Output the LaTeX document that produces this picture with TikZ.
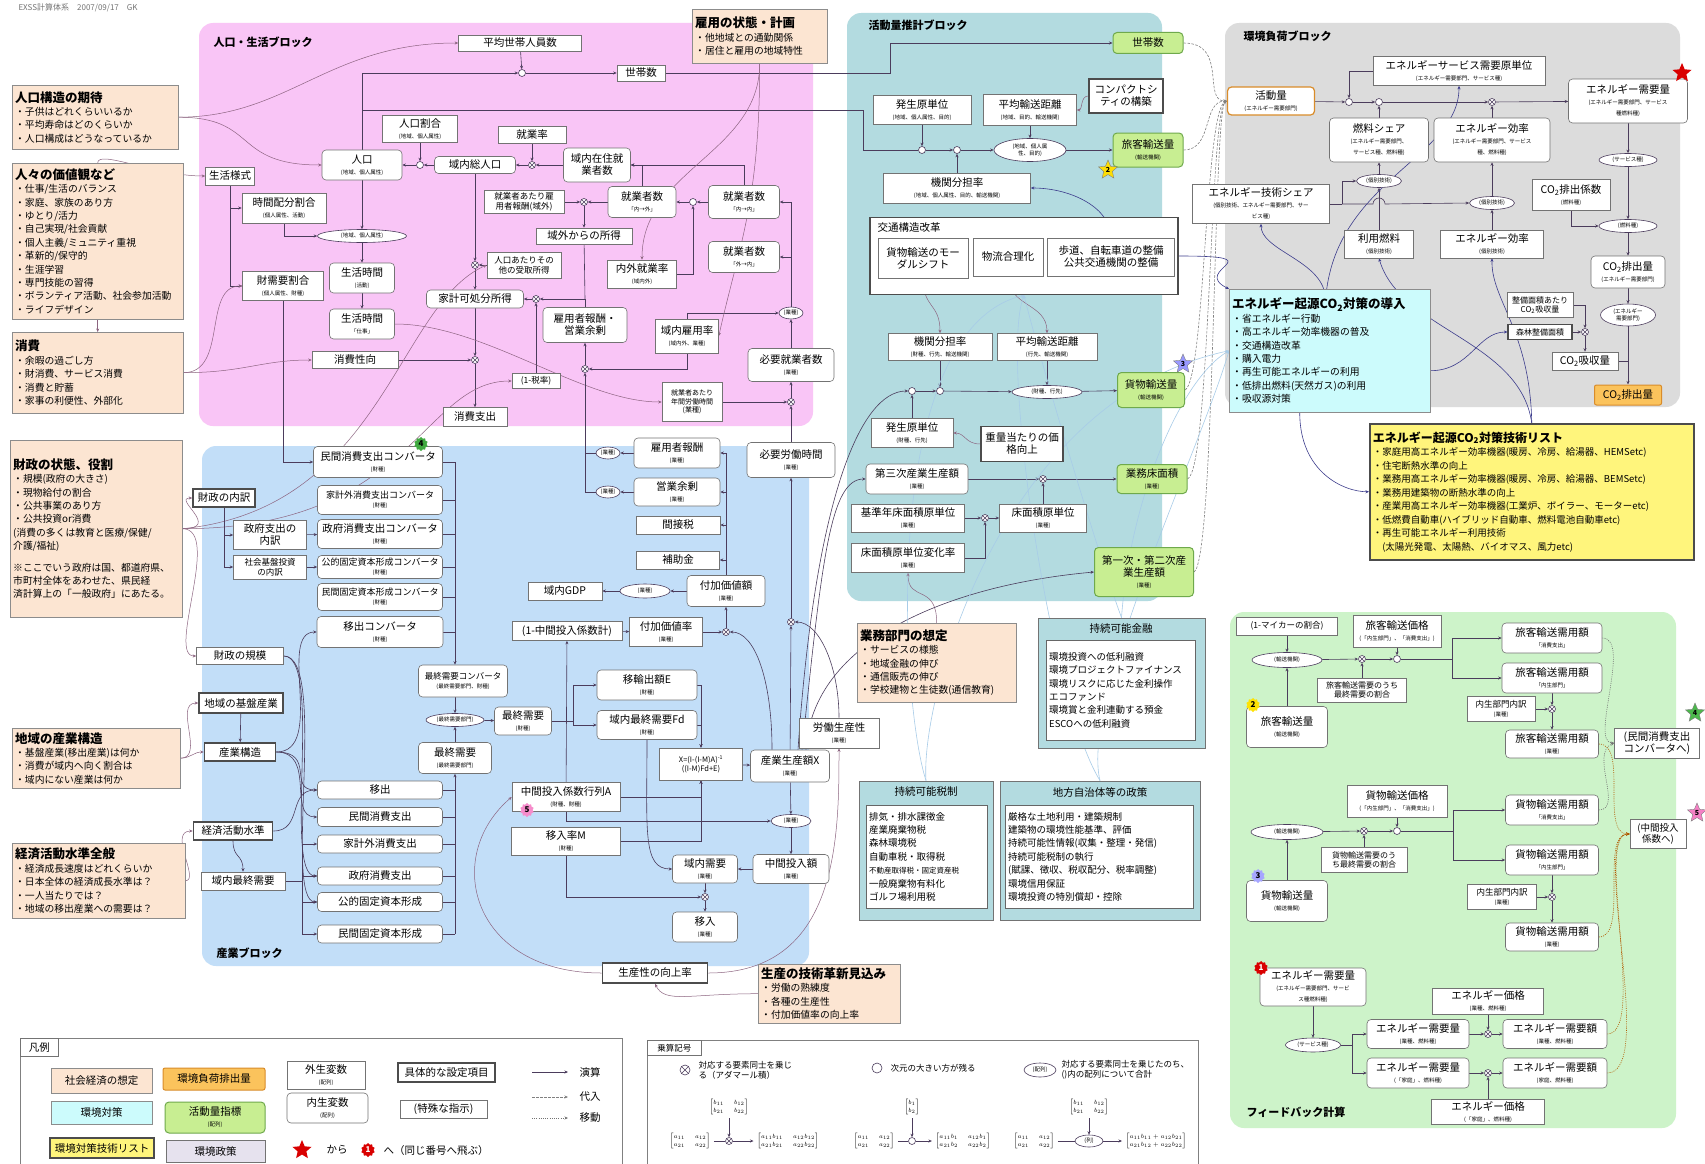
\documentclass[tikz,border=0pt]{standalone}
\usepackage{amsmath}
\usepackage{fontspec}
\setmainfont{Noto Sans CJK JP}
\usepackage{tikz}
\usetikzlibrary{positioning,arrows.meta,calc,shapes.geometric}
\newcommand{\fb}{\fontsize{10.5}{12}\selectfont}
\newcommand{\fm}{\fontsize{8.5}{10}\selectfont}
\newcommand{\fc}{\fontsize{9}{10}\selectfont}
\newcommand{\fs}{\fontsize{5.5}{6.5}\selectfont}
\newcommand{\fx}{\fontsize{6.5}{7.5}\selectfont}
\newcommand{\fa}{\fontsize{9.8}{13.4}\selectfont}
\newcommand{\sm}[1]{\\[-1pt]{\fs #1}}
\newcommand{\ttl}[1]{{\fontsize{12.5}{15}\selectfont\bfseries #1}}
\newcommand{\cotwo}{CO\textsubscript{2}}
\newcommand{\mx}[1]{$\left[\begin{matrix}#1\end{matrix}\right]$}
\definecolor{pinkb}{HTML}{F9C5F6}
\definecolor{blueb}{HTML}{C2DEF8}
\definecolor{tealb}{HTML}{B3DBE0}
\definecolor{grayb}{HTML}{DCDCDC}
\definecolor{greenb}{HTML}{CDF3C9}
\definecolor{asmf}{HTML}{FCE5D2}
\definecolor{measf}{HTML}{CCFBFC}
\definecolor{techf}{HTML}{FFF57C}
\definecolor{actf}{HTML}{C8EE92}
\definecolor{actd}{HTML}{6FA94C}
\definecolor{emif}{HTML}{FBC35C}
\definecolor{emid}{HTML}{D98C2A}
\definecolor{lnkc}{HTML}{4B3C5C}
\definecolor{crvc}{HTML}{8C6480}
\definecolor{navyc}{HTML}{3C3C8C}
\definecolor{plcc}{HTML}{A8CCE8}
\definecolor{polf}{HTML}{B3DBE0}
\definecolor{lavf}{HTML}{E6E2EE}
\pgfdeclarelayer{back}
\pgfdeclarelayer{lines}
\pgfsetlayers{back,lines,main}
\tikzset{
  >={Stealth[length=3.5pt,width=3pt]},
  sz/.style n args={2}{minimum width=#1pt,minimum height=#2pt},
  ex/.style={draw=black!55,fill=white,line width=0.6pt,align=center,inner sep=1pt,font=\fb},
  en/.style={ex,rounded corners=4pt},
  spec/.style={ex,line width=1.6pt,draw=black!70},
  act/.style={en,fill=actf,draw=actd,line width=1pt},
  em/.style={ex,fill=emif,draw=emid,line width=1pt,rounded corners=2pt},
  asm/.style={draw=black!45,fill=asmf,anchor=north west,align=left,inner sep=3pt,font=\fa},
  meas/.style={draw=black!45,fill=measf,anchor=north west,align=left,inner sep=3pt,font=\fa},
  techb/.style={draw=black!70,line width=1.5pt,fill=techf,anchor=north west,align=left,inner sep=3pt,font=\fontsize{9.5}{13.5}\selectfont},
  pol/.style={draw=black!55,fill=polf,line width=0.8pt},
  polin/.style={draw=black!60,fill=white,anchor=north west,align=left,inner sep=3pt,font=\fontsize{9.5}{13.4}\selectfont},
  op/.style={circle,draw=lnkc,fill=white,minimum size=7pt,inner sep=0pt,line width=0.6pt},
  opx/.style={op,path picture={\draw[lnkc,line width=0.4pt]
    (path picture bounding box.south west) -- (path picture bounding box.north east)
    (path picture bounding box.north west) -- (path picture bounding box.south east);}},
  el/.style={ellipse,draw=lnkc,fill=white,inner sep=0.5pt,align=center,font=\fs,line width=0.6pt},
  blkt/.style={anchor=west,font=\bfseries\fontsize{11}{13}\selectfont},
  lnk/.style={draw=lnkc,line width=0.6pt},
  crv/.style={draw=crvc,line width=0.5pt},
  nav/.style={draw=navyc,line width=0.6pt},
  plc/.style={draw=plcc,line width=0.6pt},
  sub/.style={draw=black!50,line width=0.6pt,dash pattern=on 2.5pt off 1.5pt},
  mov/.style={draw=black!55,line width=0.6pt,dash pattern=on 1pt off 1.2pt},
  stp/.style={star,star points=5,star point ratio=2.2,inner sep=0pt,minimum size=20pt,draw=black!50,line width=0.4pt,font=\bfseries\fontsize{7}{7}\selectfont},
  bdg/.style={star,star points=10,star point ratio=1.25,inner sep=0pt,minimum size=14pt,font=\bfseries\fontsize{8}{8}\selectfont},
}
\begin{document}
\begin{tikzpicture}[x=1pt,y=-1pt]
\useasboundingbox (0,0) rectangle (1705,1164);

\begin{pgfonlayer}{back}
\fill[white] (0,0) rectangle (1705,1164);
\fill[pinkb,rounded corners=14pt] (199,23) rectangle (813,426);
\fill[blueb,rounded corners=14pt] (202,446) rectangle (809,966);
\fill[tealb,rounded corners=14pt] (847,13) rectangle (1162,601);
\fill[grayb,rounded corners=14pt] (1225,23) rectangle (1680,407);
\fill[greenb,rounded corners=14pt] (1230,612) rectangle (1676,1128);
\end{pgfonlayer}

\node[anchor=west,text=black!55,font=\fontsize{8}{9}\selectfont] (hdr) at (15,8) {EXSS計算体系\quad 2007/09/17\quad GK};
\node[blkt] (tPop) at (210,42) {人口・生活ブロック};
\node[blkt] (tAct) at (865,25) {活動量推計ブロック};
\node[blkt] (tEnv) at (1240,36) {環境負荷ブロック};
\node[blkt] (tInd) at (213,953) {産業ブロック};
\node[blkt] (tFb) at (1243,1112) {フィードバック計算};

% assumptions
\node[asm,text width=160pt,minimum height=64pt] (asmPop) at (12,85) {\ttl{人口構造の期待}\\・子供はどれくらいいるか\\・平均寿命はどのくらいか\\・人口構成はどうなっているか};
\node[asm,text width=165pt,minimum height=156pt] (asmVal) at (12,163) {\ttl{人々の価値観など}\\・仕事/生活のバランス\\・家庭、家族のあり方\\・ゆとり/活力\\・自己実現/社会貢献\\・個人主義/ミュニティ重視\\・革新的/保守的\\・生涯学習\\・専門技能の習得\\・ボランティア活動、社会参加活動\\・ライフデザイン};
\node[asm,text width=165pt,minimum height=81pt] (asmCon) at (12,332) {\ttl{消費}\\・余暇の過ごし方\\・財消費、サービス消費\\・消費と貯蓄\\・家事の利便性、外部化};
\node[asm,text width=129pt,minimum height=54pt] (asmEmp) at (692,9) {\ttl{雇用の状態・計画}\\・他地域との通勤関係\\・居住と雇用の地域特性};
\node[asm,text width=166pt,minimum height=177pt] (asmFis) at (10,440) {\ttl{財政の状態、役割}\\・規模(政府の大きさ)\\・現物給付の割合\\・公共事業のあり方\\・公共投資or消費\\(消費の多くは教育と医療/保健/\\介護/福祉)\\[8pt]※ここでいう政府は国、都道府県、\\市町村全体をあわせた、県民経\\済計算上の「一般政府」にあたる。};
\node[asm,text width=162pt,minimum height=60pt] (asmInd) at (12,728) {\ttl{地域の産業構造}\\・基盤産業(移出産業)は何か\\・消費が域内へ向く割合は\\・域内にない産業は何か};
\node[asm,text width=167pt,minimum height=75pt] (asmEco) at (12,843) {\ttl{経済活動水準全般}\\・経済成長速度はどれくらいか\\・日本全体の経済成長水準は？\\・一人当たりでは？\\・地域の移出産業への需要は？};
\node[asm,text width=153pt,minimum height=79pt] (asmBiz) at (857,623) {\ttl{業務部門の想定}\\・サービスの様態\\・地域金融の伸び\\・通信販売の伸び\\・学校建物と生徒数(通信教育)};
\node[asm,text width=136pt,minimum height=59pt] (asmTec) at (758,964) {\ttl{生産の技術革新見込み}\\・労働の熟練度\\・各種の生産性\\・付加価値率の向上率};

% population / life block
\node[ex,sz={123}{16}] (avgHH) at (520,43) {平均世帯人員数};
\node[ex,sz={48}{16}] (hh) at (641,73) {世帯数};
\node[op] (oHH) at (522,73) {};
\node[ex,sz={75}{27}] (popR) at (420,129) {人口割合\sm{(地域、個人属性)}};
\node[en,sz={80}{30}] (pop) at (362,165) {人口\sm{(地域、個人属性)}};
\node[op] (oPop) at (420,165) {};
\node[ex,sz={68}{17}] (workR) at (532,135) {就業率};
\node[en,sz={81}{17}] (totPop) at (475,165) {域内総人口};
\node[opx] (xTot) at (532,165) {};
\node[en,sz={67}{34}] (resW) at (597,165) {域内在住就\\業者数};
\node[ex,sz={80}{23},font=\fm] (wageOut) at (524,202) {就業者あたり雇\\用者報酬(域外)};
\node[opx] (xWage) at (584,202) {};
\node[en,sz={68}{31}] (wIO) at (642,202) {就業者数\sm{「内→外」}};
\node[op] (oW) at (693,202) {};
\node[en,sz={71}{33}] (wII) at (744,202) {就業者数\sm{「内→内」}};
\node[ex,sz={96}{16}] (incOut) at (584,236) {域外からの所得};
\node[ex,sz={74}{26},font=\fm] (othInc) at (524,265) {人口あたりその\\他の受取所得};
\node[opx] (xOth) at (475,265) {};
\node[ex,sz={69}{28}] (ioRate) at (642,274) {内外就業率\sm{(域内外)}};
\node[en,sz={71}{31}] (wOI) at (744,257) {就業者数\sm{「外→内」}};
\node[en,sz={97}{18}] (disp) at (475,299) {家計可処分所得};
\node[opx] (xDisp) at (536,299) {};
\node[en,sz={84}{35}] (comp) at (585,325) {雇用者報酬・\\営業余剰};
\node[ex,sz={63}{34}] (empR) at (687,336) {域内雇用率\sm{(域内外、業種)}};
\node[el,sz={24}{12}] (eInd) at (791,313) {(業種)};
\node[en,sz={86}{33}] (needW) at (791,365) {必要就業者数\sm{(業種)}};
\node[opx] (xComp) at (585,369) {};
\node[opx] (xCons) at (475,360) {};
\node[ex,sz={48}{15},font=\fm] (tax) at (536,381) {(1-税率)};
\node[ex,sz={60}{39},font=\fontsize{7}{8.5}\selectfont] (hrs) at (692,402) {就業者あたり\\年間労働時間\\(業種)};
\node[opx] (xHrs) at (791,402) {};
\node[ex,sz={64}{19}] (cons) at (475,417) {消費支出};
\node[ex,sz={49}{18}] (life) at (230,176) {生活様式};
\node[ex,sz={84}{30}] (tAlloc) at (284,208) {時間配分割合\sm{(個人属性、活動)}};
\node[el,sz={89}{13}] (eAlloc) at (362,236) {(地域、個人属性)};
\node[ex,sz={81}{29}] (gAlloc) at (283,286) {財需要割合\sm{(個人属性、財種)}};
\node[en,sz={65}{30}] (lifeT) at (362,278) {生活時間\sm{(活動)}};
\node[en,sz={65}{30}] (lifeW) at (362,324) {生活時間\sm{「仕事」}};
\node[ex,sz={86}{17}] (cProp) at (355,360) {消費性向};

% industry block
\node[en,sz={129}{31}] (cvPriv) at (378,462) {民間消費支出コンバータ\sm{(財種)}};
\node[en,sz={125}{29},font=\fc] (cvHH) at (380,500) {家計外消費支出コンバータ\sm{(財種)}};
\node[en,sz={125}{29}] (cvGov) at (380,534) {政府消費支出コンバータ\sm{(財種)}};
\node[en,sz={125}{23},font=\fc] (cvPub) at (380,567) {公的固定資本形成コンバータ\sm{(財種)}};
\node[en,sz={125}{27},font=\fc] (cvPI) at (380,597) {民間固定資本形成コンバータ\sm{(財種)}};
\node[en,sz={126}{31}] (cvEx) at (380,632) {移出コンバータ\sm{(財種)}};
\node[spec,sz={62}{18}] (fisB) at (224,498) {財政の内訳};
\node[ex,sz={73}{29}] (govB) at (270,535) {政府支出の\\内訳};
\node[ex,sz={73}{24},font=\fm] (infB) at (270,567) {社会基盤投資\\の内訳};
\node[ex,sz={87}{17}] (fisS) at (240,656) {財政の規模};
\node[spec,sz={84}{20}] (baseI) at (241,703) {地域の基盤産業};
\node[spec,sz={71}{18}] (indS) at (240,752) {産業構造};
\node[spec,sz={79}{18}] (ecoL) at (233,831) {経済活動水準};
\node[ex,sz={84}{18}] (regFD) at (243,881) {域内最終需要};
\node[en,sz={125}{18}] (dEx) at (380,790) {移出};
\node[en,sz={125}{19}] (dPriv) at (380,817) {民間消費支出};
\node[en,sz={125}{18}] (dHH) at (380,844) {家計外消費支出};
\node[en,sz={125}{18}] (dGov) at (380,876) {政府消費支出};
\node[en,sz={125}{19}] (dPub) at (380,902) {公的固定資本形成};
\node[en,sz={125}{18}] (dPI) at (380,934) {民間固定資本形成};
\node[en,sz={89}{32},font=\fm] (cvFD) at (463,681) {最終需要コンバータ\sm{(最終需要部門、財種)}};
\node[el,sz={58}{13}] (eFD) at (455,720) {(最終需要部門)};
\node[en,sz={57}{28}] (fdG) at (523,721) {最終需要\sm{(財種)}};
\node[en,sz={73}{31}] (fdS) at (455,758) {最終需要\sm{(最終需要部門)}};
\node[en,sz={100}{30}] (expE) at (647,685) {移輸出額E\sm{(財種)}};
\node[en,sz={100}{29}] (fdD) at (647,725) {域内最終需要Fd\sm{(財種)}};
\node[ex,sz={83}{32},font=\fontsize{7.5}{9}\selectfont] (xForm) at (701,764) {X=(I-(I-M)A)\textsuperscript{-1}\\((I-M)Fd+E)};
\node[en,sz={79}{32}] (prodX) at (790,766) {産業生産額X\sm{(業種)}};
\node[ex,sz={80}{30}] (labP) at (839,733) {労働生産性\sm{(業種)}};
\node[en,sz={86}{30}] (wage) at (677,453) {雇用者報酬\sm{(業種)}};
\node[en,sz={86}{28}] (surp) at (677,492) {営業余剰\sm{(業種)}};
\node[ex,sz={84}{18}] (itax) at (678,525) {間接税};
\node[ex,sz={83}{18}] (subs) at (678,560) {補助金};
\node[en,sz={78}{31}] (va) at (726,591) {付加価値額\sm{(業種)}};
\node[el,sz={50}{14}] (eVA) at (645,591) {(業種)};
\node[ex,sz={74}{18}] (gdp) at (565,591) {域内GDP};
\node[el,sz={24}{12}] (eW1) at (608,453) {(業種)};
\node[el,sz={24}{12}] (eW2) at (608,492) {(業種)};
\node[en,sz={88}{35}] (needH) at (791,460) {必要労働時間\sm{(業種)}};
\node[ex,sz={110}{19}] (ic1) at (567,631) {(1-中間投入係数計)};
\node[ex,sz={73}{29}] (vaR) at (666,632) {付加価値率\sm{(業種)}};
\node[opx] (xVA) at (726,632) {};
\node[opx] (xLab) at (791,622) {};
\node[ex,sz={108}{29}] (matA) at (566,797) {中間投入係数行列A\sm{(財種、財種)}};
\node[ex,sz={109}{28}] (impM) at (566,841) {移入率M\sm{(財種)}};
\node[el,sz={40}{13}] (eIC) at (791,821) {(業種)};
\node[en,sz={65}{28}] (regD) at (705,869) {域内需要\sm{(業種)}};
\node[en,sz={76}{29}] (icA) at (791,869) {中間投入額\sm{(業種)}};
\node[opx] (xImp) at (705,897) {};
\node[en,sz={65}{30}] (imp) at (705,927) {移入\sm{(業種)}};
\node[spec,sz={105}{20}] (prodG) at (655,973) {生産性の向上率};

% activity block
\node[act,sz={70}{21}] (hhA) at (1148,43) {世帯数};
\node[ex,sz={98}{29}] (genP) at (922,110) {発生原単位\sm{(地域、個人属性、目的)}};
\node[ex,sz={93}{31}] (dstP) at (1030,110) {平均輸送距離\sm{(地域、目的、輸送機関)}};
\node[spec,sz={74}{34}] (cmpt) at (1126,96) {コンパクトシ\\ティの構築};
\node[op] (oP1) at (922,150) {};
\node[op] (oP2) at (957,150) {};
\node[el,sz={72}{23}] (eP) at (1030,150) {(地域、個人属\\性、目的)};
\node[act,sz={70}{34}] (pasA) at (1148,150) {旅客輸送量\sm{(輸送機関)}};
\node[ex,sz={147}{30}] (modP) at (957,188) {機関分担率\sm{(地域、個人属性、目的、輸送機関)}};
\node[spec,sz={308}{77}] (tr) at (1024,256) {};
\node[anchor=west,font=\fb] (trT) at (874,228) {交通構造改革};
\node[ex,sz={90}{40}] (tr1) at (923,258) {貨物輸送のモー\\ダルシフト};
\node[ex,sz={70}{38}] (tr2) at (1008,257) {物流合理化};
\node[ex,sz={127}{38}] (tr3) at (1111,257) {歩道、自転車道の整備\\公共交通機関の整備};
\node[ex,sz={104}{27}] (modF) at (940,347) {機関分担率\sm{(財種、行先、輸送機関)}};
\node[ex,sz={100}{27}] (dstF) at (1047,347) {平均輸送距離\sm{(行先、輸送機関)}};
\node[op] (oF1) at (912,391) {};
\node[op] (oF2) at (940,391) {};
\node[el,sz={70}{13}] (eF) at (1047,392) {(財種、行先)};
\node[act,sz={67}{35}] (frA) at (1151,390) {貨物輸送量\sm{(輸送機関)}};
\node[ex,sz={82}{29}] (genF) at (912,433) {発生原単位\sm{(財種、行先)}};
\node[spec,sz={82}{35}] (wtP) at (1022,444) {重量当たりの価\\格向上};
\node[en,sz={102}{30}] (terP) at (917,479) {第三次産業生産額\sm{(業種)}};
\node[opx] (xFl) at (1043,479) {};
\node[act,sz={70}{29}] (flA) at (1152,479) {業務床面積\sm{(業種)}};
\node[ex,sz={113}{28}] (bFl) at (908,518) {基準年床面積原単位\sm{(業種)}};
\node[opx] (xFb) at (985,518) {};
\node[ex,sz={87}{28}] (flU) at (1043,518) {床面積原単位\sm{(業種)}};
\node[ex,sz={113}{29}] (flC) at (908,558) {床面積原単位変化率\sm{(業種)}};
\node[act,sz={99}{49}] (prA) at (1144,572) {第一次・第二次産\\業生産額\sm{(業種)}};

% environmental load block
\node[en,sz={87}{28},draw=emid,line width=1.2pt] (actQ) at (1271,101) {活動量\sm{(エネルギー需要部門)}};
\node[op] (o1) at (1349,102) {};
\node[op] (o2) at (1379,102) {};
\node[opx] (x3) at (1492,102) {};
\node[ex,sz={172}{29}] (esu) at (1459,71) {エネルギーサービス需要原単位\sm{(エネルギー需要部門、サービス種)}};
\node[en,sz={119}{44}] (edQ) at (1628,101) {エネルギー需要量\sm{(エネルギー需要部門、サービス}\sm{種燃料種)}};
\node[en,sz={99}{44}] (fSh) at (1379,140) {燃料シェア\sm{(エネルギー需要部門、}\sm{サービス種、燃料種)}};
\node[en,sz={116}{44}] (eEf) at (1492,140) {エネルギー効率\sm{(エネルギー需要部門、サービス}\sm{種、燃料種)}};
\node[el,sz={45}{13}] (eT1) at (1379,181) {(個別技術)};
\node[el,sz={45}{13}] (eT2) at (1492,203) {(個別技術)};
\node[ex,sz={137}{39}] (tSh) at (1261,204) {エネルギー技術シェア\sm{(個別技術、エネルギー需要部門、サー}\sm{ビス種)}};
\node[ex,sz={69}{28}] (fuel) at (1379,244) {利用燃料\sm{(個別技術)}};
\node[ex,sz={103}{28}] (eEf2) at (1492,244) {エネルギー効率\sm{(個別技術)}};
\node[el,sz={58}{13}] (eSv) at (1628,160) {(サービス種)};
\node[ex,sz={78}{31}] (co2c) at (1571,195) {\cotwo 排出係数\sm{(燃料種)}};
\node[el,sz={58}{13}] (eFu) at (1628,226) {(燃料種)};
\node[en,sz={74}{32}] (co2E) at (1628,272) {\cotwo 排出量\sm{(エネルギー需要部門)}};
\node[el,sz={55}{22}] (eSec) at (1628,315) {(エネルギー\\需要部門)};
\node[ex,sz={66}{25},font=\fontsize{8}{9}\selectfont] (absU) at (1540,305) {整備面積あたり\\\cotwo 吸収量};
\node[spec,sz={64}{15},font=\fontsize{8}{9}\selectfont,line width=1.2pt] (forA) at (1540,332) {森林整備面積};
\node[opx] (xFor) at (1585,332) {};
\node[ex,sz={66}{18}] (absQ) at (1585,361) {\cotwo 吸収量};
\node[em,sz={67}{20}] (co2O) at (1628,395) {\cotwo 排出量};
\node[meas,text width=195pt,minimum height=123pt] (meas) at (1229,289) {\ttl{エネルギー起源\cotwo 対策の導入}\\・省エネルギー行動\\・高エネルギー効率機器の普及\\・交通構造改革\\・購入電力\\・再生可能エネルギーの利用\\・低排出燃料(天然ガス)の利用\\・吸収源対策};
\node[techb,text width=318pt,minimum height=136pt] (tech) at (1369,423) {{\fontsize{12}{15}\selectfont\bfseries エネルギー起源\cotwo 対策技術リスト}\\・家庭用高エネルギー効率機器(暖房、冷房、給湯器、HEMSetc)\\・住宅断熱水準の向上\\・業務用高エネルギー効率機器(暖房、冷房、給湯器、BEMSetc)\\・業務用建築物の断熱水準の向上\\・産業用高エネルギー効率機器(工業炉、ボイラー、モーターetc)\\・低燃費自動車(ハイブリッド自動車、燃料電池自動車etc)\\・再生可能エネルギー利用技術\\\quad(太陽光発電、太陽熱、バイオマス、風力etc)};

% policies
\node[pol,sz={167}{130}] (fin) at (1121.5,683) {};
\node[font=\fb] (finT) at (1121,629) {持続可能金融};
\node[polin,text width=143pt,minimum height=100pt] (finL) at (1046,640) {環境投資への低利融資\\環境プロジェクトファイナンス\\環境リスクに応じた金利操作\\エコファンド\\環境賞と金利連動する預金\\ESCOへの低利融資};
\node[pol,sz={134}{139}] (taxP) at (926,850.5) {};
\node[font=\fb] (taxT) at (926,792) {持続可能税制};
\node[polin,text width=115pt,minimum height=103pt] (taxL) at (866,805) {排気・排水課徴金\\産業廃棄物税\\森林環境税\\自動車税・取得税\\{\fontsize{7.5}{9}\selectfont 不動産取得税・固定資産税}\\一般廃棄物有料化\\ゴルフ場利用税};
\node[pol,sz={200}{139}] (loc) at (1100,850.5) {};
\node[font=\fb] (locT) at (1100,792) {地方自治体等の政策};
\node[polin,text width=182pt,minimum height=103pt] (locL) at (1005,805) {厳格な土地利用・建築規制\\建築物の環境性能基準、評価\\持続可能性情報(収集・整理・発信)\\持続可能税制の執行\\(賦課、徴収、税収配分、税率調整)\\環境信用保証\\環境投資の特別償却・控除};

% feedback block
\node[ex,sz={101}{18},font=\fm] (myCar) at (1287,626) {(1-マイカーの割合)};
\node[ex,sz={88}{32}] (pPr) at (1397,631) {旅客輸送価格\sm{(「内生部門」、「消費支出」)}};
\node[el,sz={70}{15}] (eFP) at (1287,660) {(輸送機関)};
\node[opx] (xP1) at (1362,659) {};
\node[op] (oP) at (1397,659) {};
\node[en,sz={100}{30}] (pC) at (1552,638) {旅客輸送需用額\sm{「消費支出」}};
\node[en,sz={100}{30}] (pE) at (1552,678) {旅客輸送需用額\sm{「内生部門」}};
\node[ex,sz={89}{24},font=\fontsize{8}{9}\selectfont] (pFr) at (1362,690) {旅客輸送需要のうち\\最終需要の割合};
\node[ex,sz={68}{25},font=\fm] (pBk) at (1501,709) {内生部門内訳\sm{(業種)}};
\node[opx] (xPB) at (1552,709) {};
\node[en,sz={93}{28}] (pI) at (1552,744) {旅客輸送需用額\sm{(業種)}};
\node[en,sz={81}{41}] (pQ) at (1287,727) {旅客輸送量\sm{(輸送機関)}};
\node[ex,sz={85}{30}] (toPC) at (1657,743) {(民間消費支出\\コンバータへ)};
\node[ex,sz={100}{32}] (fPr) at (1397,801) {貨物輸送価格\sm{(「内生部門」、「消費支出」)}};
\node[el,sz={72}{15}] (eFF) at (1287,832) {(輸送機関)};
\node[opx] (xF1) at (1364,831) {};
\node[op] (oF) at (1397,831) {};
\node[en,sz={93}{30}] (fC) at (1552,810) {貨物輸送需用額\sm{「消費支出」}};
\node[en,sz={93}{30}] (fE) at (1552,860) {貨物輸送需用額\sm{「内生部門」}};
\node[ex,sz={86}{25},font=\fontsize{8}{9}\selectfont] (fFr) at (1364,860) {貨物輸送需要のう\\ち最終需要の割合};
\node[ex,sz={69}{25},font=\fm] (fBk) at (1502,897) {内生部門内訳\sm{(業種)}};
\node[opx] (xFB) at (1552,897) {};
\node[en,sz={93}{28}] (fI) at (1552,937) {貨物輸送需用額\sm{(業種)}};
\node[en,sz={81}{41}] (fQ) at (1287,901) {貨物輸送量\sm{(輸送機関)}};
\node[ex,sz={56}{29},font=\fontsize{9.5}{11}\selectfont] (toIC) at (1658,834) {(中間投入\\係数へ)};
\node[en,sz={106}{38}] (fbE) at (1313,987) {エネルギー需要量\sm{(エネルギー需要部門、サービ}\sm{ス種燃料種)}};
\node[el,sz={55}{14}] (eFS) at (1313,1045) {(サービス種)};
\node[ex,sz={111}{26}] (pEI) at (1488,1001) {エネルギー価格\sm{(業種、燃料種)}};
\node[en,sz={102}{29}] (qI) at (1418,1034) {エネルギー需要量\sm{(業種、燃料種)}};
\node[opx] (xEI) at (1488,1034) {};
\node[en,sz={104}{29}] (vI) at (1555,1034) {エネルギー需要額\sm{(業種、燃料種)}};
\node[en,sz={102}{30}] (qH) at (1418,1073) {エネルギー需要量\sm{(「家庭」、燃料種)}};
\node[opx] (xEH) at (1488,1073) {};
\node[en,sz={104}{30}] (vH) at (1555,1073) {エネルギー需要額\sm{(家庭、燃料種)}};
\node[ex,sz={113}{25}] (pEH) at (1488,1112) {エネルギー価格\sm{(「家庭」、燃料種)}};

% stars and badges
\node[stp,fill=red!85!black,draw=none] (sR) at (1682,73) {};
\node[stp,fill=yellow!80!orange] (s2) at (1108,170) {2};
\node[stp,fill=blue!40] (s3) at (1183,364) {3};
\node[stp,fill=green!60!black!70] (s4) at (1695,713) {4};
\node[stp,fill=magenta!50] (s5) at (1697,813) {5};
\node[bdg,fill=green!55!black!75] (b4) at (421,444) {4};
\node[bdg,fill=magenta!45] (b5) at (527,810) {5};
\node[bdg,fill=yellow!85!orange] (b2) at (1253,705) {2};
\node[bdg,fill=blue!35] (b3) at (1258,876) {3};
\node[bdg,fill=red!85!black,text=white] (b1) at (1261,968) {1};

% legend
\draw[black!50,line width=0.6pt] (20,1038) rectangle (622,1168);
\node[ex,anchor=north west,sz={38}{18}] (lgT) at (20,1038) {凡例};
\node[ex,fill=asmf,draw=black!45,sz={101}{25}] (lg1) at (101.5,1080.5) {社会経済の想定};
\node[em,sz={102}{22}] (lg2) at (214,1079) {環境負荷排出量};
\node[ex,fill=measf,draw=black!45,sz={101}{23}] (lg3) at (101.5,1112.5) {環境対策};
\node[act,sz={100}{31}] (lg4) at (215,1117.5) {活動量指標\sm{(配列)}};
\node[ex,fill=techf,draw=black!70,line width=1.4pt,sz={104}{20}] (lg5) at (102,1148) {環境対策技術リスト};
\node[ex,fill=lavf,sz={99}{22}] (lg6) at (215.5,1151) {環境政策};
\node[ex,sz={78}{28}] (lg7) at (326,1075) {外生変数\sm{(配列)}};
\node[en,sz={81}{30}] (lg8) at (327.5,1108) {内生変数\sm{(配列)}};
\node[spec,sz={97}{19}] (lg9) at (446.5,1072.5) {具体的な設定項目};
\node[ex,sz={87}{18}] (lg10) at (443.5,1109) {(特殊な指示)};
\node[stp,fill=red!85!black,draw=none] (lgS) at (302,1150) {};
\node[font=\fb] (lgK) at (337,1150) {から};
\node[bdg,fill=red!85!black,text=white] (lgB) at (368,1150) {1};
\node[anchor=west,font=\fb] (lgH) at (380,1150) {へ（同じ番号へ飛ぶ）};
\coordinate (la1) at (532,1072); \coordinate (la2) at (568,1072);
\coordinate (lb1) at (532,1097); \coordinate (lb2) at (568,1097);
\coordinate (lc1) at (532,1118); \coordinate (lc2) at (568,1118);
\draw[lnk,->] (la1) -- (la2);
\draw[sub,->] (lb1) -- (lb2);
\draw[mov,->] (lc1) -- (lc2);
\node[anchor=west,font=\fb] (lgA) at (576,1072) {演算};
\node[anchor=west,font=\fb] (lgB2) at (576,1097) {代入};
\node[anchor=west,font=\fb] (lgC) at (576,1118) {移動};

% multiplication symbols
\draw[black!50,line width=0.6pt] (647,1040) rectangle (1198,1168);
\node[ex,anchor=north west,sz={54}{15},font=\fm] (mlT) at (647,1040) {乗算記号};
\node[opx,minimum size=10pt] (mS1) at (685,1070) {};
\node[anchor=west,font=\fm,align=left] (mT1) at (695,1070) {対応する要素同士を乗じ\\る（アダマール積）};
\node[op,minimum size=10pt] (mS2) at (877,1068) {};
\node[anchor=west,font=\fm] (mT2) at (887,1068) {次元の大きい方が残る};
\node[el,sz={32}{14}] (mS3) at (1040,1070) {(配列)};
\node[anchor=west,font=\fm,align=left] (mT3) at (1058,1070) {対応する要素同士を乗じたのち、\\()内の配列について合計};
\node[font=\fx] (m1a) at (690,1141) {\mx{a_{11}&a_{12}\\a_{21}&a_{22}}};
\node[font=\fx] (m1b) at (729,1107) {\mx{b_{11}&b_{12}\\b_{21}&b_{22}}};
\node[opx] (m1x) at (729,1141) {};
\node[font=\fx] (m1c) at (788,1141) {\mx{a_{11}b_{11}&a_{12}b_{12}\\a_{21}b_{21}&a_{22}b_{22}}};
\node[font=\fx] (m2a) at (874,1141) {\mx{a_{11}&a_{12}\\a_{21}&a_{22}}};
\node[font=\fx] (m2b) at (912,1107) {\mx{b_{1}\\b_{2}}};
\node[op] (m2x) at (912,1141) {};
\node[font=\fx] (m2c) at (963,1141) {\mx{a_{11}b_{1}&a_{12}b_{1}\\a_{21}b_{2}&a_{22}b_{2}}};
\node[font=\fx] (m3a) at (1034,1141) {\mx{a_{11}&a_{12}\\a_{21}&a_{22}}};
\node[font=\fx] (m3b) at (1089,1107) {\mx{b_{11}&b_{12}\\b_{21}&b_{22}}};
\node[el,sz={28}{12}] (m3x) at (1089,1141) {(列)};
\node[font=\fx] (m3c) at (1156,1141) {\mx{a_{11}b_{11}+a_{12}b_{21}\\a_{21}b_{12}+a_{22}b_{22}}};

\begin{pgfonlayer}{lines}
% population / life
\coordinate (jA) at (362,73);
\coordinate (jB) at (362,110);
\coordinate (jB2) at (863,110);
\coordinate (jC) at (890,73);
\draw[lnk] (pop.north) -- (jA);
\draw[lnk,->] (jA) -- (oHH);
\draw[lnk,->] (avgHH) -- (oHH);
\draw[lnk,->] (oHH) -- (hh);
\draw[lnk,->] (hh) -- (jC) |- (hhA);
\draw[lnk] (jB) -- (jB2) |- (oP1);
\draw[lnk,->] (popR) -- (oPop);
\draw[lnk,->] (totPop) -- (oPop);
\draw[lnk,->] (oPop) -- (pop);
\draw[lnk,->] (workR) -- (xTot);
\draw[lnk,->] (resW) -- (xTot);
\draw[lnk,->] (xTot) -- (totPop);
\draw[lnk,->] (pop) -- (eAlloc);
\draw[lnk,->] (eAlloc) -- (lifeT);
\draw[lnk,->] (lifeT) -- (lifeW);
\draw[lnk,->] (life.south) |- (tAlloc.west);
\draw[lnk,->] (life.south) |- (gAlloc.west);
\draw[lnk,->] (tAlloc.south) |- (eAlloc.west);
\draw[lnk,->] (totPop) -- (xOth);
\draw[lnk,->] (othInc) -- (xOth);
\draw[lnk,->] (xOth) -- (disp);
\draw[lnk,->] (disp) -- (xCons);
\draw[lnk,->] (cProp) -- (xCons);
\draw[lnk,->] (xCons) -- (cons);
\draw[lnk,->] (wII) -- (oW);
\draw[lnk,->] (oW) -- (wIO);
\draw[lnk,->] (ioRate.east) -| (oW);
\draw[lnk,->] (wIO) -- (xWage);
\draw[lnk,->] (wageOut) -- (xWage);
\draw[lnk,->] (xWage) -- (incOut);
\draw[lnk,->] (wIO.north) |- (resW.east);
\draw[lnk,->] (wII.north) |- (resW.east);
\draw[lnk,->] (eInd.north) |- (wII.east);
\draw[lnk,->] (eInd.north) |- (wOI.east);
\draw[lnk,->] (empR.north) |- (eInd.west);
\draw[lnk,->] (needW) -- (eInd);
\draw[lnk,->] (empR.south) |- (xComp);
\coordinate (jD) at (585,299);
\draw[lnk,->] (xComp) -- (comp);
\draw[lnk] (comp.north) -- (jD);
\draw[lnk] (incOut) -- (jD);
\draw[lnk,->] (jD) -- (xDisp);
\draw[lnk,->] (xDisp) -- (disp);
\draw[lnk,->] (tax) -- (xDisp);
\draw[lnk,->] (needH) -- (xHrs);
\draw[lnk,->] (xHrs) -- (needW);
\draw[lnk,->] (hrs) -- (xHrs);
\draw[lnk,->] (gAlloc.south) |- (cvPriv.west);
\draw[crv,->] (lifeW.east) .. controls +(90,0) and +(-80,0) .. (hrs.west);
% assumptions
\draw[crv,->] (asmPop.east) .. controls +(110,0) and +(-130,0) .. (avgHH.west);
\draw[crv,->] (asmPop.east) .. controls +(80,0) and +(-90,0) .. (pop.west);
\draw[crv,->] (asmVal.north) .. controls +(0,-14) and +(-50,0) .. (life.west);
\draw[crv,->] (asmVal.south) -- (asmCon.north);
\draw[crv,->] (asmCon.east) .. controls +(60,0) and +(-50,0) .. (cProp.west);
\draw[crv,->] (asmCon.east) .. controls +(45,0) and +(-40,0) .. (gAlloc.west);
\draw[crv,->] (asmEmp.south) .. controls +(0,90) and +(0,-90) .. (ioRate.north);
\draw[crv,->] (asmEmp.south) .. controls +(0,140) and +(20,-90) .. (empR.east);
\draw[crv,->] (asmFis.east) .. controls +(40,0) and +(-20,0) .. (fisB.west);
\draw[crv,->] (asmFis.east) .. controls +(40,0) and +(-30,0) .. (fisS.west);
\draw[crv,->] (asmFis.east) .. controls +(200,-20) and +(-90,40) .. (othInc.west);
\draw[crv,->] (asmFis.east) .. controls +(230,0) and +(-90,0) .. (tax.west);
\draw[crv,->] (asmInd.east) .. controls +(25,0) and +(-25,0) .. (baseI.west);
\draw[crv,->] (asmInd.east) .. controls +(10,0) and +(-10,0) .. (indS.west);
\draw[crv,->] (asmEco.east) .. controls +(15,0) and +(-25,0) .. (ecoL.west);
\draw[crv,->] (asmTec.west) .. controls +(-70,0) and +(10,20) .. (prodG.south);
\draw[crv,->] (asmBiz.north) .. controls +(0,-40) and +(0,30) .. (flC.south);
% industry
\draw[lnk,->] (fisB.south) |- (govB.west);
\draw[lnk,->] (fisB.south) |- (infB.west);
\draw[lnk,->] (govB) -- (cvGov);
\draw[lnk,->] (infB) -- (cvPub);
\coordinate (busA) at (455,462);
\foreach \n in {cvPriv,cvHH,cvGov,cvPub,cvPI,cvEx} \draw[lnk] (\n.east) -- (\n.east -| busA);
\draw[lnk,->] (busA) -- (busA |- cvFD.north);
\coordinate (busB) at (455,934);
\foreach \n in {dEx,dPriv,dHH,dGov,dPub,dPI} \draw[lnk] (\n.east) -- (\n.east -| busB);
\draw[lnk,->] (busB) -- (fdS.south);
\draw[lnk,->] (eFD |- cvFD.south) -- (eFD);
\draw[lnk,->] (fdS) -- (eFD);
\draw[lnk,->] (eFD) -- (fdG);
\coordinate (jE) at (573,721);
\draw[lnk] (fdG) -- (jE);
\draw[lnk,->] (jE) |- (expE.west);
\draw[lnk,->] (jE) |- (fdD.west);
\draw[lnk,->] (expE.east) -| (xForm.north);
\draw[lnk,->] (fdD.east) -| (xForm.north);
\draw[lnk,->] (xForm) -- (prodX);
\draw[lnk,->] (matA.east) -| (xForm.south);
\draw[lnk,->] (impM.east) -| (xForm.south);
\draw[lnk,->] (ic1) -- (vaR);
\draw[lnk,->] (vaR) -- (xVA);
\draw[lnk,->] ([xshift=-18pt]prodX.north) .. controls +(0,-70) and +(25,0) .. (xVA.east);
\draw[lnk,->] (xVA) -- (va);
\coordinate (jF) at (726,453);
\draw[lnk] (va.north) -- (jF);
\foreach \n in {wage,surp,itax,subs} \draw[lnk,->] (\n.east -| jF) -- (\n.east);
\draw[lnk,->] (va) -- (eVA);
\draw[lnk,->] (eVA) -- (gdp);
\draw[lnk,->] (wage) -- (eW1);
\draw[lnk,->] (surp) -- (eW2);
\coordinate (jG) at (585,492);
\draw[lnk] (eW1) -- (eW1 -| jG);
\draw[lnk] (eW2) -- (jG);
\draw[lnk,->] (jG) -- (xComp);
\draw[lnk,->] (prodX) -- (xLab);
\draw[lnk,->] (xLab) -- (needH);
\draw[lnk,->] (labP.north) .. controls +(0,-50) and +(25,0) .. (xLab.east);
\draw[lnk,->] (matA) -- (ic1);
\draw[lnk,->] (matA.south) |- (eIC.west);
\draw[lnk,->] (prodX) -- (eIC);
\draw[lnk,->] (eIC) -- (icA);
\draw[lnk,->] (icA) -- (regD);
\draw[lnk,->] (fdD.south) .. controls +(0,90) and +(-30,0) .. (regD.west);
\draw[lnk,->] (regD) -- (xImp);
\draw[lnk,->] (xImp) -- (imp);
\draw[lnk,->] (impM.south) |- (xImp.west);
\draw[crv,->] (prodG.west) .. controls +(-130,0) and +(-70,60) .. (matA.west);
\draw[crv,->] (prodG.east) .. controls +(130,0) and +(0,90) .. (labP.south);
\draw[lnk,->] (fisS.east) .. controls +(40,0) and +(-35,0) .. (dGov.west);
\draw[lnk,->] (fisS.east) .. controls +(45,0) and +(-35,0) .. (dPub.west);
\draw[lnk,->] (indS.east) .. controls +(40,0) and +(-30,0) .. (dEx.west);
\draw[lnk,->] (indS.east) .. controls +(40,0) and +(-30,0) .. (dPriv.west);
\draw[lnk,->] (indS.east) .. controls +(50,0) and +(-40,0) .. (cvEx.west);
\draw[lnk,->] (ecoL.east) .. controls +(30,0) and +(-30,0) .. (dEx.west);
\draw[lnk,->] (baseI) -- (indS);
\draw[lnk,->] (ecoL.south) .. controls +(0,18) and +(0,-18) .. (regFD.north);
\coordinate (jH) at (302,881);
\draw[lnk] (regFD) -- (jH);
\draw[lnk] (jH |- dHH.west) -- (jH |- dPI.west);
\foreach \n in {dHH,dGov,dPub,dPI} \draw[lnk,->] (jH |- \n.west) -- (\n.west);
% activity
\draw[lnk,->] (oP1) -- (oP2);
\draw[lnk,->] (oP2) -- (eP);
\draw[lnk,->] (eP) -- (pasA);
\draw[lnk,->] (genP) -- (oP1);
\draw[lnk,->] (modP) -- (oP2);
\draw[lnk,->] (dstP) -- (eP);
\draw[crv,->] (cmpt.west) .. controls +(-8,0) and +(6,0) .. (dstP.east);
\draw[nav,->] (tr3.north) .. controls +(0,-30) and +(40,0) .. (modP.east);
\draw[crv,->] (tr1.south) .. controls +(0,30) and +(0,-30) .. (modF.north);
\draw[crv,->] (tr2.south) .. controls +(0,30) and +(0,-30) .. (dstF.north);
\draw[nav,->] (tr.east) .. controls +(100,0) and +(-40,-20) .. (meas.north west);
\draw[lnk,->] (genF) -- (oF1);
\draw[lnk,->] (modF) -- (oF2);
\draw[lnk,->] (dstF) -- (eF);
\draw[lnk,->] (oF1) -- (oF2);
\draw[lnk,->] (oF2) -- (eF);
\draw[lnk,->] (eF) -- (frA);
\draw[crv,->] (wtP.west) .. controls +(-15,0) and +(12,0) .. (genF.east);
\draw[lnk,->] (terP) -- (xFl);
\draw[lnk,->] (xFl) -- (flA);
\draw[lnk,->] (flU) -- (xFl);
\draw[lnk,->] (bFl) -- (xFb);
\draw[lnk,->] (xFb) -- (flU);
\draw[lnk,->] (flC.east) -| (xFb);
\draw[lnk,->] ([xshift=8pt]prodX.north) .. controls (815,500) and (860,391) .. (oF1.west);
\draw[lnk,->] ([xshift=12pt]prodX.north) .. controls (822,560) and (830,479) .. (terP.west);
\draw[lnk,->] ([xshift=16pt]prodX.north) .. controls (812,640) and (950,585) .. (prA.west);
\draw[sub,->] (hhA.east) .. controls +(45,0) and +(-25,0) .. (actQ.west);
\draw[sub,->] (pasA.east) .. controls +(30,0) and +(-25,0) .. (actQ.west);
\draw[sub,->] (frA.east) .. controls (1205,380) and (1205,110) .. (actQ.west);
\draw[sub,->] (flA.east) .. controls (1210,470) and (1210,110) .. (actQ.west);
\draw[sub,->] (prA.east) .. controls (1215,560) and (1213,110) .. (actQ.west);
% environmental load
\draw[lnk,->] (actQ) -- (o1);
\draw[lnk,->] (o1) -- (o2);
\draw[lnk,->] (o2) -- (x3);
\draw[lnk,->] (x3) -- (edQ);
\draw[lnk,->] (esu.west) -| (o1);
\draw[lnk,->] (fSh) -- (o2);
\draw[lnk,->] (eEf) -- (x3);
\draw[lnk,->] (eT1) -- (fSh);
\draw[lnk,->] (fuel) -- (eT1);
\coordinate (jI) at (1342,204);
\draw[lnk] (tSh.east) -- (jI);
\draw[lnk,->] (jI) |- (eT1.west);
\draw[lnk,->] (jI) -- (1373,204) arc[start angle=180,end angle=360,radius=6] -- (eT2.west);
\draw[lnk,->] (eEf2) -- (eT2);
\draw[lnk,->] (eT2) -- (eEf);
\draw[lnk,->] (edQ) -- (eSv);
\draw[lnk,->] (eSv) -- (eFu);
\draw[lnk,->] (eFu) -- (co2E);
\draw[lnk,->] (co2E) -- (eSec);
\draw[lnk,->] (eSec) -- (co2O);
\draw[lnk,->] (co2c.south) |- (eFu.west);
\draw[lnk,->] (absU.east) -| (xFor);
\draw[lnk,->] (forA) -- (xFor);
\draw[lnk,->] (xFor) -- (absQ);
\draw[lnk] (absQ.east) -- (absQ.east -| eSec);
\draw[nav,->] ([xshift=-6pt]meas.north) .. controls +(-10,-30) and +(0,25) .. (tSh.south);
\draw[nav,->] ([xshift=-3pt]meas.north) .. controls +(15,-110) and +(0,70) .. (esu.south);
\draw[nav,->] ([yshift=-20pt]meas.east) .. controls +(40,0) and +(-30,0) .. (forA.west);
\draw[nav,->] ([xshift=-30pt]meas.south) .. controls +(0,60) and +(-25,0) .. (tech.west);
\draw[nav,->] (tech.north) .. controls (1520,340) and (1400,330) .. (fuel.south);
\draw[nav,->] (tech.north) .. controls (1530,330) and (1491,300) .. (eEf2.south);
% policies
\draw[plc,->] (fin.north) .. controls (1130,500) and (1180,380) .. (meas.west);
\draw[plc,->] (loc.north) .. controls (1080,700) and (1200,450) .. (meas.west);
\draw[plc,->] (taxP.north) .. controls (920,700) and (1000,400) .. (meas.west);
\draw[plc,->] (taxP.north) .. controls (900,700) and (880,330) .. (tr.south);
\draw[plc,->] (loc.north) .. controls (1050,700) and (1000,360) .. (tr.south);
\draw[plc,->] (fin.north) .. controls (1100,560) and (1040,360) .. (tr.south);
% feedback
\draw[lnk,->] (myCar) -- (eFP);
\draw[lnk,->] (pQ) -- (eFP);
\draw[lnk,->] (eFP) -- (xP1);
\draw[lnk,->] (xP1) -- (oP);
\coordinate (jJ) at (1452,659);
\draw[lnk] (oP) -- (jJ);
\draw[lnk,->] (jJ) |- (pC.west);
\draw[lnk,->] (jJ) |- (pE.west);
\draw[lnk,->] (pFr) -- (xP1);
\draw[lnk,->] (pPr) -- (oP);
\draw[lnk,->] (pE) -- (xPB);
\draw[lnk,->] (xPB) -- (pI);
\draw[lnk,->] (pBk) -- (xPB);
\draw[lnk,->] (fQ) -- (eFF);
\draw[lnk,->] (eFF) -- (xF1);
\draw[lnk,->] (xF1) -- (oF);
\coordinate (jK) at (1453,831);
\draw[lnk] (oF) -- (jK);
\draw[lnk,->] (jK) |- (fC.west);
\draw[lnk,->] (jK) |- (fE.west);
\draw[lnk,->] (fFr) -- (xF1);
\draw[lnk,->] (fPr) -- (oF);
\draw[lnk,->] (fE) -- (xFB);
\draw[lnk,->] (xFB) -- (fI);
\draw[lnk,->] (fBk) -- (xFB);
\draw[lnk,->] (fbE) -- (eFS);
\coordinate (jL) at (1352,1045);
\draw[lnk] (eFS) -- (jL);
\draw[lnk,->] (jL) |- (qI.west);
\draw[lnk,->] (jL) |- (qH.west);
\draw[lnk,->] (qI) -- (xEI);
\draw[lnk,->] (xEI) -- (vI);
\draw[lnk,->] (pEI) -- (xEI);
\draw[lnk,->] (qH) -- (xEH);
\draw[lnk,->] (xEH) -- (vH);
\draw[lnk,->] (pEH) -- (xEH);
\draw[mov,->] (pC.east) .. controls +(30,0) and +(-25,0) .. (toPC.west);
\draw[mov,->] (fC.east) .. controls +(25,0) and +(-25,10) .. (toPC.west);
\draw[mov,->,draw=orange!70!black] (pI.east) .. controls +(30,0) and +(-30,0) .. (toIC.west);
\draw[mov,->,draw=orange!70!black] (fI.east) .. controls +(30,0) and +(-30,0) .. (toIC.west);
\draw[mov,->,draw=orange!70!black] (vI.east) .. controls +(40,0) and +(-35,0) .. (toIC.west);
\draw[mov,->,draw=orange!70!black] (vH.east) .. controls +(50,0) and +(-40,0) .. (toIC.west);
% legend operators
\draw[lnk] (m1a) -- (m1x);
\draw[lnk,->] (m1b) -- (m1x);
\draw[lnk,->] (m1x) -- (m1c);
\draw[lnk] (m2a) -- (m2x);
\draw[lnk,->] (m2b) -- (m2x);
\draw[lnk,->] (m2x) -- (m2c);
\draw[lnk] (m3a) -- (m3x);
\draw[lnk,->] (m3b) -- (m3x);
\draw[lnk,->] (m3x) -- (m3c);
\end{pgfonlayer}
\end{tikzpicture}
\end{document}
